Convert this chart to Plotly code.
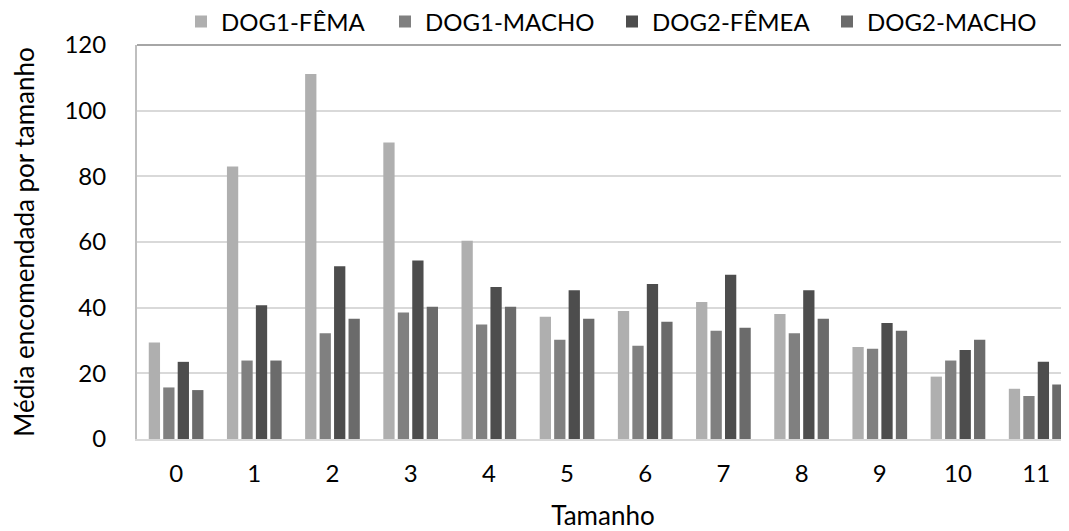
import plotly.graph_objects as go

categories = ["0", "1", "2", "3", "4", "5", "6", "7", "8", "9", "10", "11"]
series_names = ["DOG1-FÊMA", "DOG1-MACHO", "DOG2-FÊMEA", "DOG2-MACHO"]
dog1_femea = [29.4, 83.0, 111.2, 90.3, 60.4, 37.2, 39.0, 41.7, 38.1, 28.0, 19.0, 15.3]
dog1_macho = [15.7, 23.9, 32.2, 38.5, 34.9, 30.2, 28.4, 33.0, 32.2, 27.5, 23.9, 13.1]
dog2_femea = [23.5, 40.7, 52.6, 54.4, 46.3, 45.3, 47.2, 50.0, 45.3, 35.3, 27.1, 23.5]
dog2_macho = [14.9, 23.9, 36.6, 40.3, 40.3, 36.6, 35.7, 33.9, 36.6, 33.0, 30.2, 16.6]
colors = ["#afafaf", "#808080", "#4d4d4d", "#6b6b6b"]
y_ticks = [0, 20, 40, 60, 80, 100, 120]

FONT = "Lato"
# page body has an 8px margin: compensate so the plot lands where the reference has it
PAGE = 8
W, H = 1069 - PAGE, 531 - PAGE
L, T = 137 - PAGE, 45 - PAGE
B = 531 - 439
PLOT_W = W - L
PLOT_H = H - T - B

legend_text_x = [220, 424, 651, 866]  # where each legend label starts (page pixels)
legend_names = ["legend", "legend2", "legend3", "legend4"]

fig = go.Figure()
for name, vals, col, lg in zip(series_names, [dog1_femea, dog1_macho, dog2_femea, dog2_macho], colors, legend_names):
    fig.add_trace(go.Bar(x=categories, y=vals, name=name, legend=lg,
                         marker=dict(color=col, line=dict(width=0))))

legend_layout = {}
for lg, tx in zip(legend_names, legend_text_x):
    legend_layout[lg] = dict(
        orientation="h", x=(tx - 39 - 137) / PLOT_W, xanchor="left",
        y=(439 - 22) / PLOT_H, yanchor="middle",
        font=dict(family=FONT, size=24, color="#000000"),
        bgcolor="rgba(0,0,0,0)", borderwidth=0)

fig.update_layout(
    width=W, height=H, autosize=False,
    margin=dict(l=L, r=0, t=T, b=B, pad=0, autoexpand=False),
    paper_bgcolor="white", plot_bgcolor="white",
    barmode="group", bargap=0.26, bargroupgap=0.22,
    font=dict(family=FONT, size=24, color="#000000"),
    xaxis=dict(type="category", range=[-0.5, 11.42], showgrid=False,
               showline=True, linecolor="#d9d9d9", linewidth=2,
               ticks="", ticklabelstandoff=12, automargin=False,
               tickfont=dict(family=FONT, size=24),
               title=dict(text="Tamanho", font=dict(family=FONT, size=26), standoff=21)),
    yaxis=dict(range=[0, 120], tickvals=y_ticks, showgrid=True, gridcolor="#d9d9d9", gridwidth=2,
               showline=True, linecolor="#bfbfbf", linewidth=2, zeroline=False,
               ticks="", ticklabelstandoff=24, automargin=False,
               tickfont=dict(family=FONT, size=24),
               title=dict(text="Média encomendada por tamanho", font=dict(family=FONT, size=26), standoff=35)),
    shapes=[dict(type="line", xref="paper", yref="paper", x0=0, x1=1, y0=1, y1=1,
                 line=dict(color="#a6a6a6", width=2))],
    showlegend=True,
    **legend_layout,
)

fig.write_html("out.html")
